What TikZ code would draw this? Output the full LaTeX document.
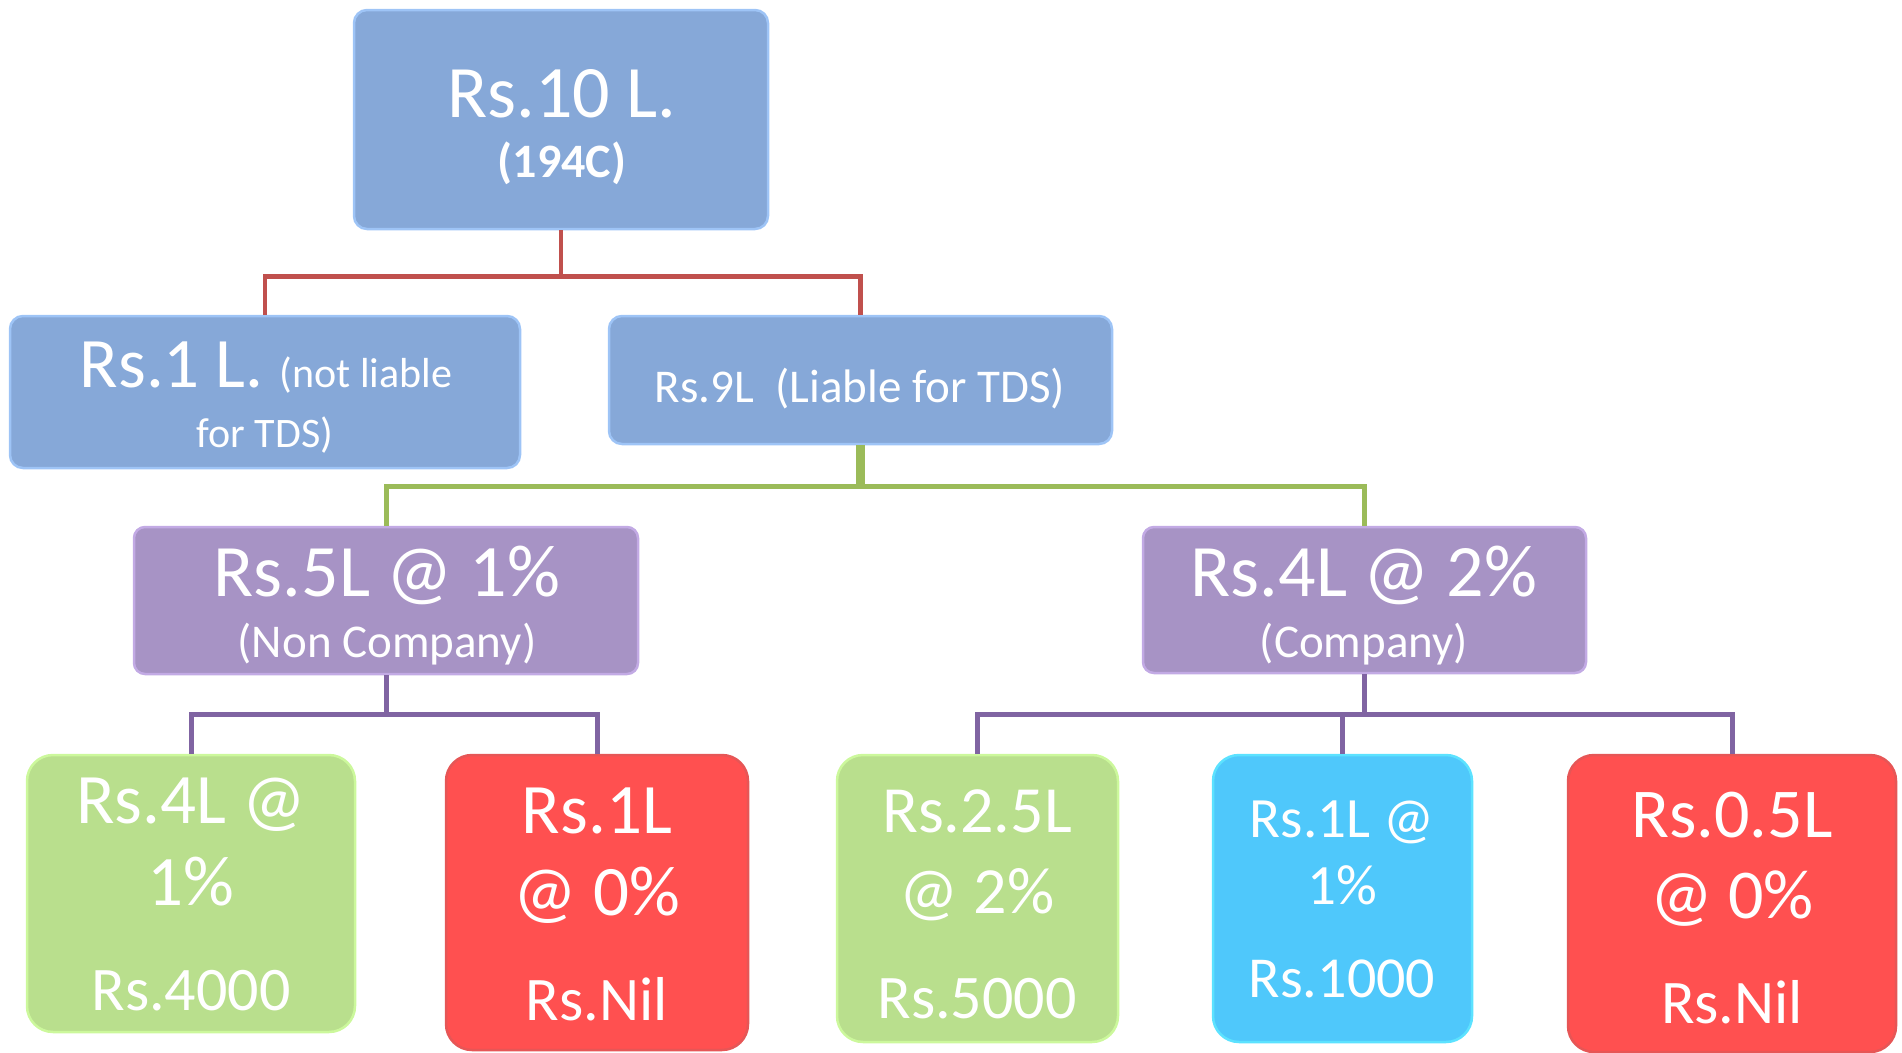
\documentclass[tikz,border=0pt]{standalone}
\usepackage{fontspec}
\setmainfont{Carlito}
\usetikzlibrary{calc}
\definecolor{boxblue}{HTML}{86A8D8}
\definecolor{edgeblue}{HTML}{9EC4F6}
\definecolor{boxpurple}{HTML}{A793C5}
\definecolor{edgepurple}{HTML}{C2AAE4}
\definecolor{boxgreen}{HTML}{B9DF8D}
\definecolor{edgegreen}{HTML}{CCF89C}
\definecolor{boxred}{HTML}{FF5050}
\definecolor{edgered}{HTML}{E65656}
\definecolor{boxcyan}{HTML}{4FC8FB}
\definecolor{edgecyan}{HTML}{5CE2FF}
\definecolor{linered}{HTML}{C0504D}
\definecolor{linegreen}{HTML}{9BBB59}
\definecolor{linepurple}{HTML}{8064A2}
\begin{document}
\begin{tikzpicture}[x=1pt,y=-1pt,
    box/.style={rectangle,inner sep=0pt,line width=2.5pt},
    bluebox/.style={box,fill=boxblue,draw=edgeblue,rounded corners=13pt},
    purplebox/.style={box,fill=boxpurple,draw=edgepurple,rounded corners=11pt},
    greenbox/.style={box,fill=boxgreen,draw=edgegreen,rounded corners=26pt},
    redbox/.style={box,fill=boxred,draw=edgered,rounded corners=26pt},
    cyanbox/.style={box,fill=boxcyan,draw=edgecyan,rounded corners=26pt},
    txt/.style={anchor=base,inner sep=0pt,text=white},
    fs/.style={font=\fontsize{#1}{#1}\selectfont},
    link/.style={line width=5pt}]
    \useasboundingbox (0,0) rectangle (1902,1052);
    % boxes
    \node[bluebox,minimum width=414pt,minimum height=219pt] (top) at (561,119.5) {};
    \node[bluebox,minimum width=510pt,minimum height=152pt] (one) at (265,392) {};
    \node[bluebox,minimum width=503pt,minimum height=128pt] (nine) at (860.5,380) {};
    \node[purplebox,minimum width=504pt,minimum height=147pt] (five) at (386,600.5) {};
    \node[purplebox,minimum width=443pt,minimum height=146pt] (four) at (1364.5,600) {};
    \node[greenbox,minimum width=328pt,minimum height=277pt] (gfour) at (191,893.5) {};
    \node[redbox,minimum width=302pt,minimum height=295pt] (rone) at (597,902.5) {};
    \node[greenbox,minimum width=281pt,minimum height=287pt] (gtwo) at (977.5,898.5) {};
    \node[cyanbox,minimum width=259pt,minimum height=287pt] (cone) at (1342.5,898.5) {};
    \node[redbox,minimum width=328pt,minimum height=297pt] (rhalf) at (1732,903.5) {};
    % texts
    \node[txt,fs=74] (topa) at (562,117) {Rs.10 L.};
    \node[txt,fs=48] (topb) at (562,177) {\bfseries (194C)};
    \node[txt] (onea) at (266,387) {\fontsize{71}{71}\selectfont Rs.1 L. \fontsize{42}{42}\selectfont(not liable};
    \node[txt,fs=42] (oneb) at (265,447) {for TDS)};
    \node[txt,fs=47] (ninea) at (860,402) {Rs.9L\ \ (Liable for TDS)};
    \node[txt,fs=74] (fivea) at (387,596) {Rs.5L @ 1\%};
    \node[txt,fs=47] (fiveb) at (387,657) {(Non Company)};
    \node[txt,fs=74] (foura) at (1364,596) {Rs.4L @ 2\%};
    \node[txt,fs=47] (fourb) at (1364,657) {(Company)};
    \node[txt,fs=71] (gfoura) at (191,823) {Rs.4L @};
    \node[txt,fs=71] (gfourb) at (191,905) {1\%};
    \node[txt,fs=62] (gfourc) at (191,1010) {Rs.4000};
    \node[txt,fs=71] (ronea) at (597,833) {Rs.1L};
    \node[txt,fs=71] (roneb) at (597,915) {@ 0\%};
    \node[txt,fs=62] (ronec) at (597,1020) {Rs.Nil};
    \node[txt,fs=66] (gtwoa) at (977,832) {Rs.2.5L};
    \node[txt,fs=66] (gtwob) at (977,913) {@ 2\%};
    \node[txt,fs=62] (gtwoc) at (977,1018) {Rs.5000};
    \node[txt,fs=57] (conea) at (1342,837) {Rs.1L @};
    \node[txt,fs=57] (coneb) at (1342,904) {1\%};
    \node[txt,fs=58] (conec) at (1342,997) {Rs.1000};
    \node[txt,fs=70] (rhalfa) at (1732,837) {Rs.0.5L};
    \node[txt,fs=70] (rhalfb) at (1732,918) {@ 0\%};
    \node[txt,fs=62] (rhalfc) at (1732,1023) {Rs.Nil};
    % connectors
    \draw[link,linered,line width=4.5pt] (top.south) -- ++(0,46) -| (one.north);
    \draw[link,linered,line width=4.5pt] (top.south) -- ++(0,46) -| (nine.north);
    \draw[link,linegreen] ([xshift=-2pt]nine.south) -- ++(0,41) -| (five.north);
    \draw[link,linegreen] ([xshift=2pt]nine.south) -- ++(0,41) -| (four.north);
    \draw[link,linepurple] (five.south) -- ++(0,39) -| (gfour.north);
    \draw[link,linepurple] (five.south) -- ++(0,39) -| (rone.north);
    \draw[link,linepurple] (four.south) -- ++(0,40) -| (gtwo.north);
    \draw[link,linepurple] (four.south) -- ++(0,40) -| (cone.north);
    \draw[link,linepurple] (four.south) -- ++(0,40) -| (rhalf.north);
\end{tikzpicture}
\end{document}
